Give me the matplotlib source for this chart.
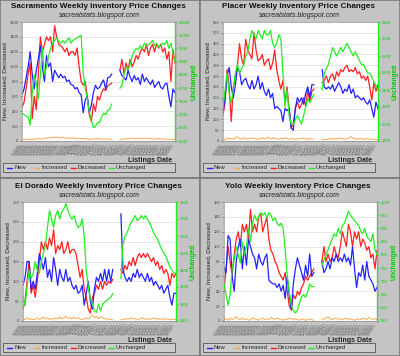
import numpy as np
import matplotlib

matplotlib.use("Agg")
import matplotlib.pyplot as plt
import pandas as pd
from matplotlib.patches import Rectangle
from matplotlib.lines import Line2D

plt.rcParams["font.family"] = ["Liberation Sans", "DejaVu Sans"]

GAP = 3  # weeks with no data between the two runs

# ---- Sacramento ----
sac_new_a = [620, 700, 850, 1000, 1200, 900, 700, 950, 1100, 1280, 1000, 800, 1150, 1000, 1050, 800,
             950, 900, 850, 900, 850, 870, 800, 820, 760, 750, 700, 720, 650, 620, 380, 550, 600, 380,
             480, 650, 750, 700, 720, 780, 820, 700, 850, 860, 900]
sac_new_b = [950, 880, 850, 820, 950, 860, 800, 880, 820, 850, 760, 900, 800, 850, 800, 760, 820, 720,
             760, 800, 720, 700, 760, 780, 600, 460, 700, 650]
sac_inc_a = [20, 25, 15, 30, 20, 25, 20, 30, 35, 25, 30, 40, 35, 45, 40, 50, 45, 55, 40, 45, 50, 40, 45,
             35, 40, 45, 30, 35, 40, 30, 35, 25, 30, 20, 25, 30, 25, 35, 30, 25, 30, 25, 30, 20, 25]
sac_inc_b = [20, 25, 30, 25, 35, 30, 40, 35, 30, 40, 35, 30, 35, 40, 30, 35, 30, 25, 30, 35, 25, 30, 25,
             20, 25, 20, 25, 20]
sac_dec_a = [450, 520, 700, 900, 1050, 300, 600, 420, 900, 1400, 1200, 1300, 1400, 1350, 1400, 1200,
             1550, 1400, 1300, 1280, 1250, 1200, 1250, 1150, 1200, 1200, 1150, 1250, 1000, 800, 750, 800,
             600, 350, 260, 500, 400, 600, 550, 650, 700, 680, 740, 760, 780]
sac_dec_b = [950, 1100, 900, 1050, 950, 1100, 1000, 1060, 1150, 1100, 1200, 1250, 1200, 1300, 1150, 1250,
             1300, 1200, 1300, 1250, 1300, 1200, 1250, 1100, 1200, 800, 1230, 1050]
sac_unc_a = [7050, 7000, 6950, 6900, 6600, 7800, 8500, 8200, 7600, 8500, 9500, 8500, 8800, 9200, 9500,
             9700, 9800, 9900, 9750, 9700, 9800, 9700, 9800, 9900, 9700, 9800, 9850, 9900, 9950, 10000,
             8600, 8000, 7600, 7100, 6800, 6500, 6550, 6700, 6700, 6900, 7050, 7000, 7150, 7200, 7400]
sac_unc_b = [8000, 8100, 8500, 8800, 8700, 8900, 9200, 9400, 9500, 9450, 9600, 9500, 9700, 9600, 9650,
             9700, 9800, 9600, 9700, 9550, 9600, 9700, 9650, 9800, 9500, 9700, 9300, 9000]

# ---- Placer ----
pla_new_a = [130, 200, 300, 340, 250, 200, 260, 340, 320, 260, 280, 290, 260, 240, 280, 240, 260, 300,
             240, 270, 230, 210, 240, 200, 220, 150, 160, 150, 140, 90, 150, 140, 150, 60, 50, 150, 200,
             180, 200, 170, 220, 250, 200, 260, 260]
pla_new_b = [330, 250, 240, 250, 240, 260, 230, 250, 270, 250, 220, 240, 230, 260, 220, 240, 200, 210,
             200, 190, 200, 180, 170, 190, 150, 110, 180, 150]
pla_inc_a = [10, 5, 15, 10, 12, 8, 15, 20, 12, 10, 15, 8, 12, 10, 15, 12, 10, 8, 12, 15, 10, 12, 18, 10,
             12, 15, 10, 8, 12, 10, 15, 12, 8, 10, 12, 8, 10, 12, 10, 15, 10, 8, 12, 10, 8]
pla_inc_b = [5, 8, 6, 10, 8, 12, 10, 8, 15, 10, 12, 8, 10, 15, 20, 12, 10, 8, 12, 10, 8, 10, 12, 8, 10,
             6, 8, 5]
pla_dec_a = [120, 180, 330, 250, 90, 250, 300, 350, 450, 380, 350, 470, 420, 400, 380, 500, 420, 370,
             380, 400, 350, 370, 380, 330, 360, 420, 330, 280, 240, 280, 180, 250, 150, 60, 80, 150, 180,
             150, 170, 200, 160, 240, 180, 230, 240]
pla_dec_b = [270, 280, 300, 270, 300, 310, 280, 320, 300, 330, 320, 340, 350, 320, 330, 320, 340, 310,
             320, 290, 300, 280, 300, 250, 190, 270, 230, 260]
pla_unc_a = [2200, 2400, 2600, 2350, 2250, 2400, 2600, 2700, 2600, 2650, 2700, 2800, 2850, 3000, 3100,
             3050, 3000, 3100, 3050, 3000, 3100, 3050, 3050, 3100, 2950, 2900, 2950, 3050, 3000, 2600,
             2200, 2400, 2100, 2000, 1990, 2050, 2100, 2050, 2000, 2100, 2200, 2300, 2250, 2300, 2350]
pla_unc_b = [2400, 2600, 2650, 2700, 2800, 2900, 2850, 2800, 2850, 2900, 2850, 2900, 2950, 2900, 2850,
             2800, 2850, 2800, 2750, 2700, 2700, 2650, 2600, 2600, 2550, 2500, 2450, 2400]

# ---- El Dorado ----
eld_new_a = [90, 110, 150, 150, 80, 100, 80, 120, 170, 150, 130, 160, 110, 130, 100, 160, 130, 90, 130,
             110, 100, 130, 100, 110, 90, 80, 90, 70, 75, 90, 40, 70, 100, 50, 30, 80, 110, 100, 120, 100,
             130, 100, 130, 100, 130]
eld_new_b = [270, 130, 110, 100, 110, 100, 120, 110, 130, 110, 120, 110, 100, 120, 100, 110, 90, 100, 90,
             80, 90, 70, 80, 90, 60, 40, 70, 70]
eld_inc_a = [5, 3, 8, 4, 6, 3, 5, 8, 4, 6, 10, 5, 8, 4, 6, 5, 8, 6, 10, 5, 8, 12, 6, 8, 5, 10, 6, 8, 5, 4,
             6, 8, 5, 10, 15, 8, 12, 6, 10, 8, 5, 6, 4, 5, 3]
eld_inc_b = [3, 5, 4, 6, 5, 8, 5, 6, 4, 5, 8, 6, 5, 4, 6, 5, 8, 5, 6, 4, 5, 6, 4, 5, 3, 4, 5, 3]
eld_dec_a = [30, 50, 100, 150, 70, 90, 60, 100, 150, 200, 180, 200, 180, 210, 190, 230, 170, 190, 180,
             200, 170, 180, 200, 170, 180, 180, 170, 140, 110, 130, 80, 60, 30, 20, 60, 70, 90, 80, 100,
             80, 100, 90, 100, 95, 105]
eld_dec_b = [130, 120, 140, 130, 150, 140, 160, 140, 160, 170, 160, 170, 160, 170, 160, 150, 160, 140,
             150, 130, 140, 120, 130, 120, 90, 120, 110, 120]
eld_unc_a = [1250, 1190, 1300, 1400, 1350, 1380, 1450, 1400, 1380, 1450, 1500, 1550, 1650, 1750, 1700,
             1650, 1720, 1750, 1700, 1740, 1760, 1790, 1750, 1720, 1700, 1720, 1680, 1650, 1660, 1700,
             1600, 1400, 1300, 1230, 1200, 1160, 1150, 1200, 1160, 1200, 1210, 1220, 1230, 1240, 1260]
eld_unc_b = [1350, 1550, 1600, 1620, 1650, 1680, 1700, 1720, 1690, 1700, 1720, 1700, 1720, 1700, 1680,
             1650, 1620, 1600, 1580, 1550, 1520, 1500, 1480, 1450, 1420, 1400, 1380, 1380]

# ---- Yolo ----
yol_new_a = [72, 65, 115, 110, 60, 40, 80, 100, 110, 70, 100, 75, 110, 100, 90, 85, 70, 90, 80, 75, 85,
             90, 55, 52, 50, 50, 45, 50, 40, 48, 30, 60, 35, 15, 50, 70, 85, 75, 65, 55, 75, 60, 90, 60, 65]
yol_new_b = [80, 65, 70, 80, 70, 85, 80, 90, 80, 85, 80, 90, 80, 85, 75, 100, 70, 45, 65, 60, 75, 55, 80,
             60, 55, 50, 40, 45]
yol_inc_a = [2, 3, 1, 4, 2, 3, 6, 3, 2, 4, 2, 3, 1, 2, 4, 3, 2, 1, 3, 4, 2, 3, 2, 5, 3, 2, 4, 3, 2, 1, 3,
             2, 4, 3, 2, 3, 2, 1, 3, 2, 1, 2, 3, 2, 1]
yol_inc_b = [2, 3, 4, 6, 3, 2, 3, 4, 2, 3, 2, 3, 4, 2, 3, 2, 1, 2, 3, 2, 4, 3, 2, 5, 3, 2, 3, 2]
yol_dec_a = [40, 70, 100, 80, 60, 90, 110, 120, 100, 130, 120, 130, 110, 150, 120, 130, 120, 140, 145,
             120, 130, 140, 110, 95, 90, 80, 75, 65, 60, 55, 65, 40, 20, 15, 35, 30, 40, 35, 45, 50, 60,
             55, 60, 65, 70]
yol_dec_b = [80, 100, 80, 90, 80, 85, 100, 90, 85, 100, 120, 110, 100, 130, 120, 100, 120, 110, 120, 100,
             110, 105, 95, 100, 85, 90, 70, 95]
yol_unc_a = [690, 650, 610, 650, 750, 780, 830, 800, 770, 850, 800, 830, 900, 850, 920, 950, 930, 945,
             960, 950, 960, 940, 960, 950, 930, 940, 920, 910, 920, 900, 820, 720, 660, 610, 590, 580, 590,
             620, 640, 650, 640, 660, 690, 680, 680]
yol_unc_b = [760, 780, 800, 820, 840, 860, 880, 870, 900, 880, 910, 920, 940, 965, 950, 940, 930, 920,
             910, 890, 880, 900, 870, 860, 850, 880, 820, 800]

titles = ["Sacramento", "Placer", "El Dorado", "Yolo"]
left_ticks = [np.arange(0, 1601, 200), np.arange(0, 551, 50), np.arange(0, 301, 50), np.arange(0, 161, 20)]
right_ticks = [np.arange(6000, 10501, 500), np.arange(1800, 3201, 200), np.arange(1100, 1801, 100),
               np.arange(550, 1001, 50)]
date_labels = [d.strftime("%m/%d/%y") for d in pd.date_range("2006-05-06", periods=51, freq="10D")]

BLUE, ORANGE, RED, GREEN = "#2222ff", "#ffa64d", "#ff2020", "#22ee22"
GREEN_TXT = "#00cc00"
W, H = 400, 356


def _join(a, b):
    return np.array(a + [np.nan] * GAP + b, dtype=float)


def draw_panel(fig, px, py, name, series, lticks, rticks, box):
    # box = (left, right, top, bottom) of the plot area in panel pixels
    fig.add_artist(Rectangle((px / W, 1 - (py + 178) / H), 200 / W, 178 / H, transform=fig.transFigure,
                             facecolor="#c4c4c4", edgecolor="#7a7a7a", lw=1.2, zorder=0))
    dy = box[2] - 22
    fig.text((px + 98) / W, 1 - (py + 6 + dy) / H, f"{name} Weekly Inventory Price Changes",
             ha="center", va="center", fontsize=5.9, fontweight="bold", color="#111111")
    fig.text((px + 99) / W, 1 - (py + 15.5 + dy) / H, "sacrealstats.blogspot.com",
             ha="center", va="center", fontsize=5.0, style="italic", color="#222222")

    l, r, t, b = box
    ax = fig.add_axes([(px + l) / W, 1 - (py + b) / H, (r - l) / W, (b - t) / H])
    ax.set_facecolor("white")
    x = np.arange(len(series[0]))
    ax.plot(x, series[1], color=ORANGE, lw=0.7)
    ax.plot(x, series[2], color=RED, lw=0.9)
    ax.plot(x, series[0], color=BLUE, lw=0.9)
    ax.set_xlim(0, len(x) - 1)
    ax.set_ylim(lticks[0], lticks[-1])
    ax.set_yticks(lticks)
    ax.set_yticks(np.linspace(lticks[0], lticks[-1], (len(lticks) - 1) * 5 + 1), minor=True)
    ax.tick_params(axis="y", labelsize=3.0, length=1.5, width=0.4, pad=1, colors="#444444")
    ax.tick_params(axis="y", which="minor", length=0.8, width=0.3, colors="#888888")
    ax.grid(axis="y", color="#dddddd", lw=0.5)
    ax.set_axisbelow(True)
    xt = np.linspace(0, len(x) - 1, len(date_labels))
    ax.set_xticks(xt)
    ax.set_xticklabels(date_labels, rotation=55, ha="right", fontsize=2.4, color="#555555")
    ax.tick_params(axis="x", length=1, width=0.3, pad=0.5)
    for s in ("left", "bottom", "top"):
        ax.spines[s].set_color("#999999")
        ax.spines[s].set_linewidth(0.5)
    ax.set_ylabel("New, Increased, Decreased", fontsize=4.6, labelpad=1.5, color="#222222")

    ax2 = ax.twinx()
    ax2.plot(x, series[3], color=GREEN, lw=0.9)
    ax2.set_ylim(rticks[0], rticks[-1])
    ax2.set_yticks(rticks)
    ax2.set_yticks(np.linspace(rticks[0], rticks[-1], (len(rticks) - 1) * 5 + 1), minor=True)
    ax2.tick_params(axis="y", labelsize=3.0, length=1.5, width=0.4, pad=1, colors=GREEN_TXT)
    ax2.tick_params(axis="y", which="minor", length=0.8, width=0.3, colors=GREEN_TXT)
    ax2.spines["right"].set_color(GREEN)
    ax2.spines["right"].set_linewidth(0.8)
    for s in ("left", "bottom", "top"):
        ax2.spines[s].set_visible(False)
    ax2.set_ylabel("Unchanged", fontsize=4.8, fontweight="bold", color=GREEN_TXT, labelpad=1.0)

    fig.text((px + 172) / W, 1 - (py + 160 + dy) / H, "Listings Date", ha="right", va="center",
             fontsize=5.0, fontweight="bold", color="#222222")

    # legend strip
    ly = py + 163 + dy
    fig.add_artist(Rectangle(((px + 3) / W, 1 - (ly + 9) / H), 172 / W, 9 / H, transform=fig.transFigure,
                             facecolor="#cccccc", edgecolor="#555555", lw=0.6, zorder=1))
    entries = [("New", BLUE, 7), ("Increased", ORANGE, 34), ("Decreased", RED, 71), ("Unchanged", GREEN, 109)]
    for lab, col, ex in entries:
        yy = 1 - (ly + 4.5) / H
        fig.add_artist(Line2D([(px + ex) / W, (px + ex + 5) / W], [yy, yy], color=col, lw=1.0,
                              transform=fig.transFigure, zorder=2))
        fig.text((px + ex + 7) / W, yy, lab, ha="left", va="center", fontsize=4.2, color="#222222", zorder=3)


fig = plt.figure(figsize=(4.0, 3.56), dpi=100)
fig.patch.set_facecolor("#c4c4c4")

panels = [
    (0, 0, [_join(sac_new_a, sac_new_b), _join(sac_inc_a, sac_inc_b), _join(sac_dec_a, sac_dec_b),
            _join(sac_unc_a, sac_unc_b)], (22, 175, 22, 141)),
    (200, 0, [_join(pla_new_a, pla_new_b), _join(pla_inc_a, pla_inc_b), _join(pla_dec_a, pla_dec_b),
              _join(pla_unc_a, pla_unc_b)], (23, 178, 22, 141)),
    (0, 178, [_join(eld_new_a, eld_new_b), _join(eld_inc_a, eld_inc_b), _join(eld_dec_a, eld_dec_b),
              _join(eld_unc_a, eld_unc_b)], (23, 176, 24, 143)),
    (200, 178, [_join(yol_new_a, yol_new_b), _join(yol_inc_a, yol_inc_b), _join(yol_dec_a, yol_dec_b),
                _join(yol_unc_a, yol_unc_b)], (24, 177, 24, 143)),
]
for i, (px, py, series, box) in enumerate(panels):
    draw_panel(fig, px, py, titles[i], series, left_ticks[i], right_ticks[i], box)

fig.savefig("out.png", dpi=100, facecolor=fig.get_facecolor())
